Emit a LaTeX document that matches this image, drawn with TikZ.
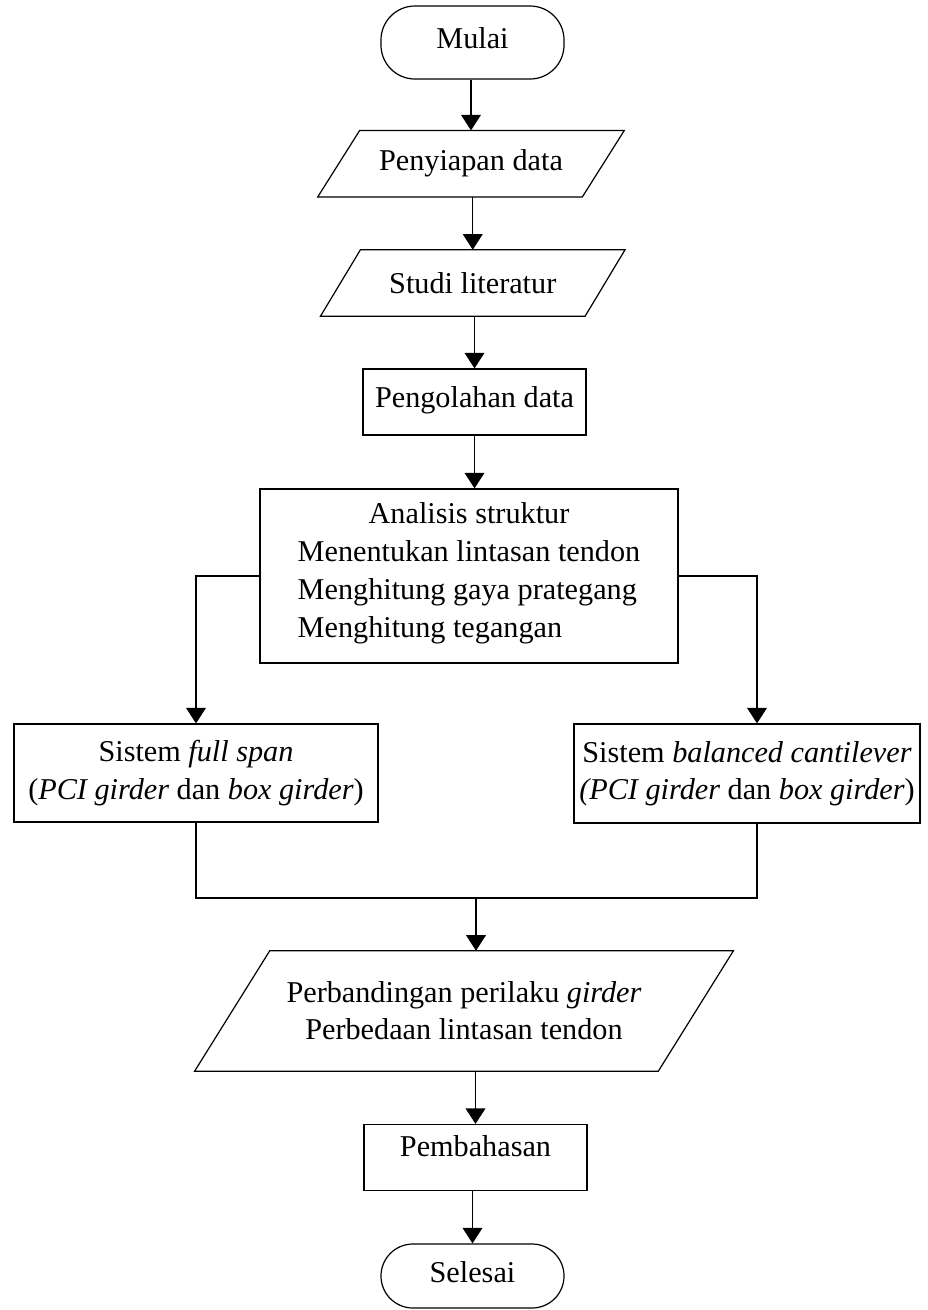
\documentclass[tikz,border=0pt]{standalone}
\usepackage{fontspec}
\setmainfont{Liberation Serif}
\usepackage{tikz}
\usetikzlibrary{positioning, arrows.meta}
\tikzset{myLine/.style={line width=0.3mm,color=black}}
\tikzset{myArrow/.style={myLine, -{Triangle[width=14pt,length=11pt]}}}
\tikzset{myBox/.style={draw, myLine, rectangle, inner sep=0pt, align=center}}
\tikzset{myTerm/.style={myBox, rounded corners=0.85cm, minimum width=4.575cm, minimum height=1.825cm, text height=0.55cm, text depth=0.25cm}}
\tikzset{myProcess/.style={myBox, minimum width=5.575cm, minimum height=1.65cm, text height=0.55cm}}
\tikzset{myInput/.style={rectangle, inner sep=0pt, align=center, minimum height=1.65cm}}
\newcommand{\slantBox}[2]{\draw[myLine] ([xshift=#2]#1.north west) -- ([xshift=#2]#1.north east) -- ([xshift=-#2]#1.south east) -- ([xshift=-#2]#1.south west) -- cycle;}

\begin{document}
\begin{tikzpicture}[x=0.025cm, y=-0.025cm, every node/.style={font=\fontsize{21.5pt}{26.5pt}\selectfont}]

	\useasboundingbox (0,0) rectangle (928,1310);

	\node[myTerm] (mulai) at (472.5,42.5) {Mulai};
	\node[myInput, minimum width=6.6cm] (dataIn) at (471,163.7) {Penyiapan data};
	\node[myInput, minimum width=6.6cm] (studi) at (472.75,283) {Studi literatur};
	\node[myProcess, text depth=0.3cm] (olah) at (474.5,402) {Pengolahan data};
	\node[myBox, minimum width=10.45cm, minimum height=4.35cm, yshift=0pt] (analisis) at (469,576) {%
		\renewcommand{\arraystretch}{1.02}%
		\begin{tabular}{@{}l@{}}
		\multicolumn{1}{@{}c@{}}{Analisis struktur}\\
		Menentukan lintasan tendon\\
		Menghitung gaya prategang\\
		Menghitung tegangan\\[4pt]
		\end{tabular}};
	\node[myBox, minimum width=9.1cm, minimum height=2.45cm] (fullSpan) at (196,773) {Sistem \textit{full span}\\(\textit{PCI girder} dan \textit{box girder})};
	\node[myBox, minimum width=8.65cm, minimum height=2.475cm] (balCant) at (747,773.5) {Sistem \textit{balanced cantilever}\\\textit{(PCI girder} dan \textit{box girder})};
	\node[myInput, minimum width=11.575cm, minimum height=3cm] (compare) at (464,1011) {Perbandingan perilaku \textit{girder}\\Perbedaan lintasan tendon};
	\node[myProcess, text depth=0.62cm] (bahas) at (475.5,1157.5) {Pembahasan};
	\node[myTerm, minimum height=1.6cm, rounded corners=0.8cm] (selesai) at (472.5,1276) {Selesai};

	% input shapes
	\slantBox{dataIn}{0.525cm}
	\slantBox{studi}{0.5cm}
	\slantBox{compare}{0.94cm}

	\foreach \a/\b in {mulai/dataIn, dataIn/studi, studi/olah, compare/bahas, bahas/selesai}{
		\draw[myArrow](\b.north |- \a.south)--(\b.north);
	}
	\draw[myArrow](olah.south)--(olah.south |- analisis.north);

	\draw[myArrow](analisis.west)-|(fullSpan.north);
	\draw[myArrow](analisis.east)-|([xshift=0.25cm]balCant.north);

	\coordinate (joint) at (476,898);
	\draw[myLine](fullSpan.south)|-(joint)-|([xshift=0.25cm]balCant.south);
	\draw[myArrow](joint)--(joint |- compare.north);
\end{tikzpicture}
\end{document}
